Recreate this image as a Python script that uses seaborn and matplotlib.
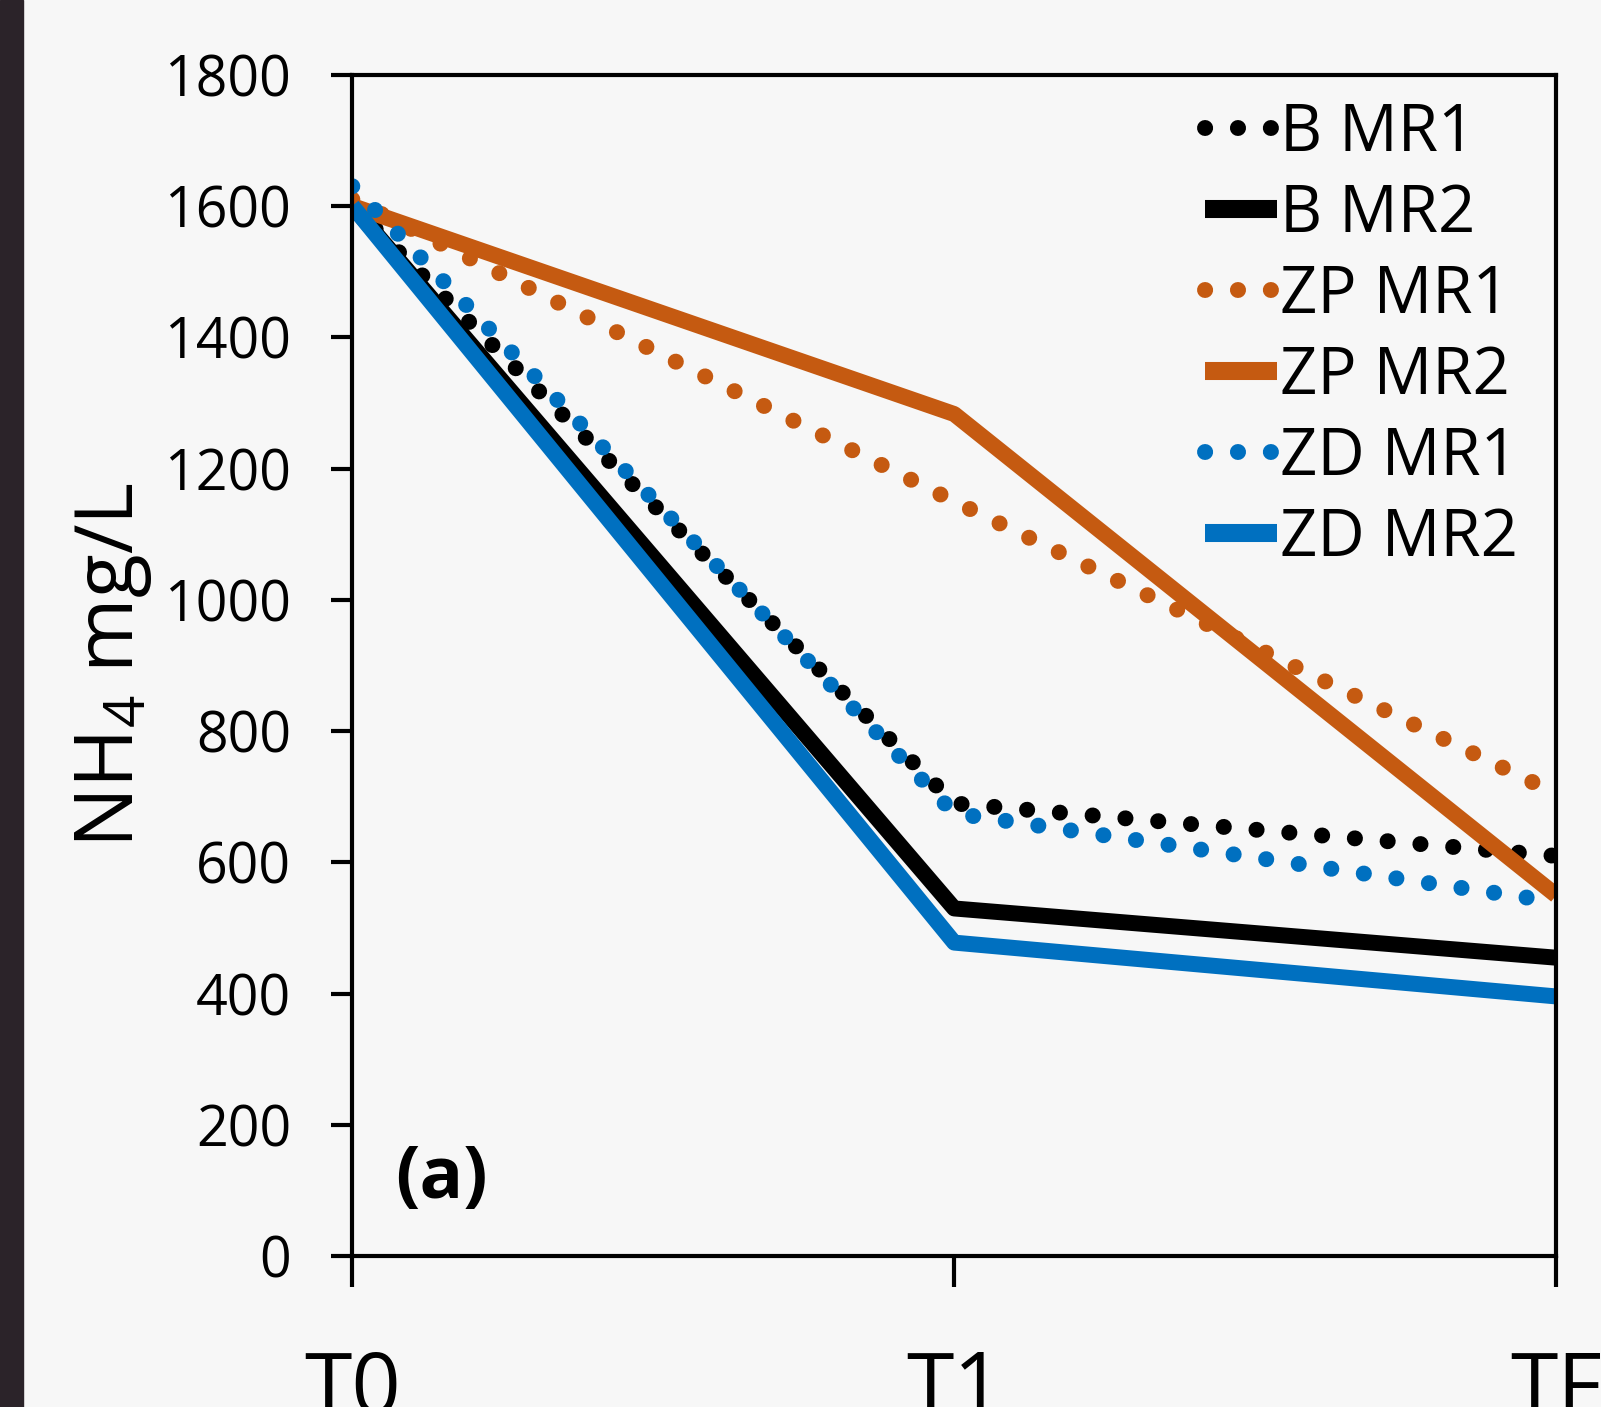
import numpy as np
import pandas as pd
import matplotlib
matplotlib.use('Agg')
import matplotlib.pyplot as plt
from matplotlib.patches import Rectangle
import seaborn as sns

# values (NH4 mg/L at each sampling time)
times = ['T0', 'T1', 'TF']
b_mr1 = [1600, 690, 610]
b_mr2 = [1600, 530, 455]
zp_mr1 = [1610, 1150, 705]
zp_mr2 = [1600, 1283, 550]
zd_mr1 = [1630, 675, 540]
zd_mr2 = [1600, 478, 396]

series_names = ['B MR1', 'B MR2', 'ZP MR1', 'ZP MR2', 'ZD MR1', 'ZD MR2']
series_values = [b_mr1, b_mr2, zp_mr1, zp_mr2, zd_mr1, zd_mr2]
series_colors = ['black', 'black', '#C55A11', '#C55A11', '#0070C0', '#0070C0']
series_dotted = [True, False, True, False, True, False]

sns.set_style('white')
plt.rcParams['font.family'] = ['Open Sans', 'DejaVu Sans']
plt.rcParams['mathtext.fontset'] = 'custom'
plt.rcParams['mathtext.rm'] = 'Open Sans'
plt.rcParams['mathtext.it'] = 'Open Sans'
plt.rcParams['text.color'] = 'black'
plt.rcParams['axes.labelcolor'] = 'black'

bg = '#f7f7f7'
fig = plt.figure(figsize=(16.01, 14.07), dpi=100, facecolor=bg)
ax = fig.add_axes([0.22, 0.107, 0.752, 0.840])
ax.set_facecolor(bg)

# dark photo edge on the left
fig.patches.append(Rectangle((0, 0), 23 / 1601, 1, transform=fig.transFigure,
                             color='#2b2329', zorder=0))

lw = 11.5
for name, vals, col, dotted in zip(series_names, series_values, series_colors, series_dotted):
    df = pd.DataFrame({'time': times, 'nh4': vals})
    if dotted:
        sns.lineplot(data=df, x='time', y='nh4', ax=ax, color=col, linewidth=lw,
                     linestyle=(0, (0.01, 2.05)), dash_capstyle='round', label=name)
    else:
        sns.lineplot(data=df, x='time', y='nh4', ax=ax, color=col, linewidth=lw,
                     solid_capstyle='butt', label=name)

ax.set_xlim(0, 2)
ax.set_ylim(0, 1800)
ax.set_yticks(np.arange(0, 1801, 200))
ax.set_xlabel('')
ax.set_ylabel('NH$_4$ mg/L', fontsize=58)
ax.yaxis.set_label_coords(-0.165, 0.5)

for sp in ax.spines.values():
    sp.set_visible(True)
    sp.set_color('black')
    sp.set_linewidth(3)

ax.tick_params(axis='y', direction='out', length=15, width=3, pad=29,
               labelsize=40, left=True, colors='black')
ax.tick_params(axis='x', direction='out', length=22, width=3, pad=44,
               labelsize=62, bottom=True, colors='black')

ax.text(0.036, 0.035, '(a)', transform=ax.transAxes, fontsize=52,
        fontweight='bold', ha='left', va='bottom')

leg = ax.legend(loc='upper right', bbox_to_anchor=(0.99, 1.0), frameon=False,
                fontsize=47, handlelength=1.1, handletextpad=0.05,
                labelspacing=0.23, borderaxespad=0)
for line, dotted in zip(leg.get_lines(), series_dotted):
    if not dotted:
        line.set_linewidth(13)

fig.savefig('out.png', dpi=100, facecolor=bg)
